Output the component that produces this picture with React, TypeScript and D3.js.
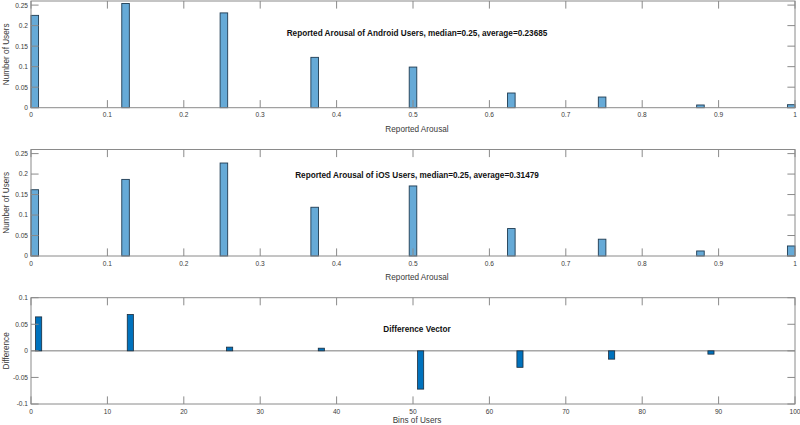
import React from "react";
import * as d3 from "d3";

const arousalLevels = [0, 0.125, 0.25, 0.375, 0.5, 0.625, 0.75, 0.875, 1];
const androidShare = [0.225, 0.254, 0.231, 0.1227, 0.099, 0.0358, 0.026, 0.0066, 0.0073];
const iosShare = [0.1618, 0.187, 0.227, 0.119, 0.171, 0.067, 0.041, 0.0123, 0.0245];
const diffBins = [1, 13, 26, 38, 51, 64, 76, 89];
const diffValues = [0.0639, 0.0684, 0.007, 0.005, -0.072, -0.031, -0.0156, -0.0062];

const histTicksX = [0, 0.1, 0.2, 0.3, 0.4, 0.5, 0.6, 0.7, 0.8, 0.9, 1];
const histTicksY = [0, 0.05, 0.1, 0.15, 0.2, 0.25];
const diffTicksX = [0, 10, 20, 30, 40, 50, 60, 70, 80, 90, 100];
const diffTicksY = [-0.1, -0.05, 0, 0.05, 0.1];

const androidTitle = "Reported Arousal of Android Users, median=0.25, average=0.23685";
const iosTitle = "Reported Arousal of iOS Users, median=0.25, average=0.31479";
const diffTitle = "Difference Vector";
const NBINS = 101;

const LEFT = 31;
const RIGHT = 795;
const FONT = "'Liberation Sans', Arial, Helvetica, sans-serif";
const AXIS = "#8a8a8a";
const TEXTC = "#3a3a3a";
const TICKLEN = 7.6;

const fmt = (v: number) => {
  if (Math.abs(v) < 1e-9) return "0";
  return String(+v.toFixed(3));
};

function Frame({ x, y, xTicks, yTicks, top, bottom }: any) {
  const [x0, x1] = x.range();
  return (
    <g>
      <rect x={x0} y={top} width={x1 - x0} height={bottom - top} fill="none" stroke={AXIS} strokeWidth={1} />
      {xTicks.map((t: number, i: number) => (
        <g key={"xt" + i}>
          <line x1={x(t)} x2={x(t)} y1={bottom} y2={bottom - TICKLEN} stroke={AXIS} />
          <line x1={x(t)} x2={x(t)} y1={top} y2={top + TICKLEN} stroke={AXIS} />
          <text x={x(t)} y={bottom + 9.5} fontSize={6.6} fill={TEXTC} textAnchor="middle" fontFamily={FONT}>
            {fmt(t)}
          </text>
        </g>
      ))}
      {yTicks.map((t: number, i: number) => (
        <g key={"yt" + i}>
          <line x1={x0} x2={x0 + TICKLEN} y1={y(t)} y2={y(t)} stroke={AXIS} />
          <line x1={x1} x2={x1 - TICKLEN} y1={y(t)} y2={y(t)} stroke={AXIS} />
          <text x={x0 - 3} y={y(t) + 2.4} fontSize={6.6} fill={TEXTC} textAnchor="end" fontFamily={FONT}>
            {fmt(t)}
          </text>
        </g>
      ))}
    </g>
  );
}

function HistPanel({ top, bottom, values, title, titleY }: any) {
  const x = d3.scaleLinear().domain([0, 1]).range([LEFT, RIGHT]);
  const y = d3.scaleLinear().domain([0, 0.26]).range([bottom, top]);
  const mid = (LEFT + RIGHT) / 2;
  return (
    <g>
      {arousalLevels.map((v, i) => {
        const bin = Math.min(Math.floor(v * NBINS), NBINS - 1);
        const xa = x(bin / NBINS);
        const xb = x((bin + 1) / NBINS);
        return (
          <rect
            key={i}
            x={xa}
            y={y(values[i])}
            width={xb - xa}
            height={y(0) - y(values[i])}
            fill="#66AAD7"
            stroke="#1f3b52"
            strokeWidth={0.9}
          />
        );
      })}
      <Frame x={x} y={y} xTicks={histTicksX} yTicks={histTicksY} top={top} bottom={bottom} />
      <text x={mid + 4} y={titleY} fontSize={8.2} fontWeight="bold" textAnchor="middle" fontFamily={FONT} fill="#111">
        {title}
      </text>
      <text x={mid + 4} y={bottom + 24} fontSize={8.2} textAnchor="middle" fontFamily={FONT} fill={TEXTC}>
        Reported Arousal
      </text>
      <text
        transform={`translate(9,${(top + bottom) / 2}) rotate(-90)`}
        fontSize={8.2}
        textAnchor="middle"
        fontFamily={FONT}
        fill={TEXTC}
      >
        Number of Users
      </text>
    </g>
  );
}

function DiffPanel({ top, bottom }: any) {
  const x = d3.scaleLinear().domain([0, 100]).range([LEFT, RIGHT]);
  const y = d3.scaleLinear().domain([-0.1, 0.1]).range([bottom, top]);
  const mid = (LEFT + RIGHT) / 2;
  const bw = x(0.8) - x(0);
  return (
    <g>
      <line x1={LEFT} x2={RIGHT} y1={y(0)} y2={y(0)} stroke="#7a7a7a" strokeWidth={1} />
      {diffBins.map((b, i) => {
        const v = diffValues[i];
        return (
          <rect
            key={i}
            x={x(b) - bw / 2}
            y={Math.min(y(v), y(0))}
            width={bw}
            height={Math.abs(y(v) - y(0))}
            fill="#0072BD"
            stroke="#1b2b3a"
            strokeWidth={0.8}
          />
        );
      })}
      <Frame x={x} y={y} xTicks={diffTicksX} yTicks={diffTicksY} top={top} bottom={bottom} />
      <text x={mid + 4} y={331.5} fontSize={8.2} fontWeight="bold" textAnchor="middle" fontFamily={FONT} fill="#111">
        {diffTitle}
      </text>
      <text x={mid + 4} y={423} fontSize={8.2} textAnchor="middle" fontFamily={FONT} fill={TEXTC}>
        Bins of Users
      </text>
      <text
        transform={`translate(9,${(top + bottom) / 2}) rotate(-90)`}
        fontSize={8.2}
        textAnchor="middle"
        fontFamily={FONT}
        fill={TEXTC}
      >
        Difference
      </text>
    </g>
  );
}

export default function App() {
  return (
    <svg
      width={800}
      height={425}
      style={{ position: "absolute", left: 0, top: 0, background: "#fff" }}
    >
      <rect width={800} height={425} fill="#fff" />
      <HistPanel top={1} bottom={107.7} values={androidShare} title={androidTitle} titleY={36} />
      <HistPanel top={149.5} bottom={256} values={iosShare} title={iosTitle} titleY={178} />
      <DiffPanel top={297.7} bottom={404} />
    </svg>
  );
}
